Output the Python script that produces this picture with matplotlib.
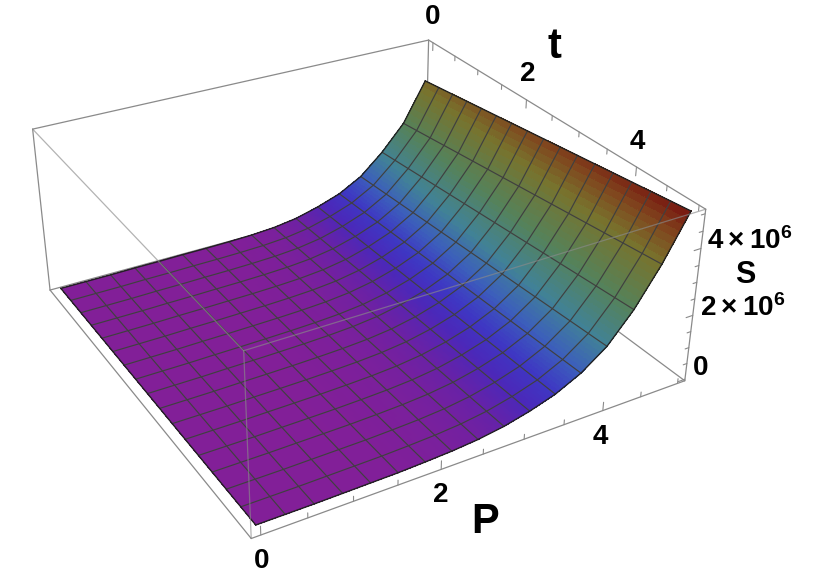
import numpy as np, matplotlib
matplotlib.use('Agg')
import matplotlib.pyplot as plt
from matplotlib.colors import LinearSegmentedColormap

plt.rcParams['font.family'] = ['Liberation Sans', 'DejaVu Sans']
plt.rcParams['mathtext.fontset'] = 'custom'
plt.rcParams['mathtext.bf'] = 'Liberation Sans:bold'
plt.rcParams['mathtext.rm'] = 'Liberation Sans:bold'

# S in millions, read along the two long edges of the surface, node by node
p_nodes = [0, 0.3125, 0.625, 0.9375, 1.25, 1.5625, 1.875, 2.1875, 2.5, 2.8125,
           3.125, 3.4375, 3.75, 4.0625, 4.375, 4.6875, 5]
s_t0 = [.06, .06, .06, .07, .07, .08, .08, .09, .11, .16, .27, .47, .73, 1.14, 1.80, 2.62, 3.90]
s_t5 = [.07, .07, .07, .08, .09, .10, .13, .17, .24, .36, .55, .80, 1.18, 1.74, 2.60, 3.71, 5.03]
t_nodes = [0, 0.3125, 0.625, 0.9375, 1.25, 1.5625, 1.875, 2.1875, 2.5, 2.8125,
           3.125, 3.4375, 3.75, 4.0625, 4.375, 4.6875, 5]
p_ticks = [0, 2, 4]
t_ticks = [0, 2, 4]
s_ticks = [0, 2, 4]
minor_step = 0.5

height_stops = [0.0, 0.08, 0.30, 0.55, 0.80, 1.18, 1.74, 2.60, 3.71, 4.40, 5.03]
height_colors = ['#821f98', '#821f98', '#6a21a5', '#4b28b9', '#3e37c3', '#3c5fbb',
                 '#418296', '#55825a', '#78732d', '#80461e', '#78140f']

lo, hi, zlo, zhi = -0.1, 5.1, -0.05, 5.13
EDGE = '#8a8a8a'
MESH = '#404040'

fig = plt.figure(figsize=(8.3, 5.8), dpi=100, facecolor='white')
ax = fig.add_axes([-73.278 / 830, -98.927 / 580, 1, 830 / 580], projection='3d')
ax.computed_zorder = False
ax.set_proj_type('persp', focal_length=0.359)
ax.view_init(29.569, -30.082, 0.01)
ax.set_box_aspect((1, 1, 0.4), zoom=0.82)
ax.set_axis_off()
ax.patch.set_alpha(0)

t_arr, p_arr, a0, a5 = map(np.asarray, (t_nodes, p_nodes, s_t0, s_t5))
weights = t_arr / t_arr[-1]
S = a0[None, :] + weights[:, None] * (a5 - a0)[None, :]      # rows: t, columns: P


def refine(v, n=8):
    idx = np.arange(len(v))
    return np.interp(np.linspace(0, len(v) - 1, (len(v) - 1) * n + 1), idx, v)


t_f, p_f = refine(t_arr), refine(p_arr)
S_f = np.array([refine(row) for row in np.array([refine(col) for col in S.T]).T])
T_f, P_f = np.meshgrid(t_f, p_f, indexing='ij')
norm = plt.Normalize(0, height_stops[-1])
cmap = LinearSegmentedColormap.from_list(
    'height', [(s / height_stops[-1], c) for s, c in zip(height_stops, height_colors)], N=1024)
cell = (S_f[:-1, :-1] + S_f[1:, :-1] + S_f[:-1, 1:] + S_f[1:, 1:]) / 4
face = cmap(norm(cell))


def seg(a, b, z=2, **kw):
    kw.setdefault('color', EDGE)
    kw.setdefault('lw', 0.9)
    ax.plot([a[0], b[0]], [a[1], b[1]], [a[2], b[2]], zorder=z, solid_capstyle='round', **kw)


A, B, C, D = (lo, lo, zhi), (lo, hi, zhi), (hi, hi, zhi), (hi, lo, zhi)
E, H, G, F = (lo, lo, zlo), (lo, hi, zlo), (hi, hi, zlo), (hi, lo, zlo)
for a, b in [(E, H), (H, G), (H, B), (A, B), (B, C), (A, E), (C, G), (E, F), (F, G)]:
    seg(a, b, z=1)

ax.plot_surface(T_f, P_f, S_f, facecolors=face, rstride=1, cstride=1, linewidth=0,
                antialiased=False, shade=False, zorder=2)

for i in range(1, len(t_nodes) - 1):
    ax.plot([t_nodes[i]] * len(p_nodes), p_nodes, S[i, :], color=MESH, lw=0.85, zorder=3)
for j in range(1, len(p_nodes) - 1):
    ax.plot(t_nodes, [p_nodes[j]] * len(t_nodes), S[:, j], color=MESH, lw=0.85, zorder=3)
ax.plot([t_nodes[0]] * 17, p_nodes, S[0, :], color='#222222', lw=1.0, zorder=3)
ax.plot([t_nodes[-1]] * 17, p_nodes, S[-1, :], color='#222222', lw=1.0, zorder=3)
ax.plot(t_nodes, [p_nodes[0]] * 17, S[:, 0], color='#222222', lw=1.0, zorder=3)
ax.plot(t_nodes, [p_nodes[-1]] * 17, S[:, -1], color='#222222', lw=1.0, zorder=3)

for a, b in [(A, D), (D, C), (D, F)]:
    seg(a, b, z=4, alpha=0.65)

for v in np.arange(0, 5.01, minor_step):
    L = 0.26 if v in p_ticks else 0.15
    seg((hi, v, zlo), (hi, v, zlo + L), z=5, lw=0.8)
    L = 0.26 if v in t_ticks else 0.15
    seg((v, hi, zhi), (v, hi, zhi - L), z=5, lw=0.8)
    L = 0.09 if v in s_ticks else 0.05
    seg((hi, hi, v), (hi, hi - L, v), z=5, lw=0.8)

ax.set_xlim(lo, hi, view_margin=0)
ax.set_ylim(lo, hi, view_margin=0)
ax.set_zlim(zlo, zhi, view_margin=0)


def label(x, y, s, size, ha='center'):
    fig.text(x / 830, 1 - y / 580, s, fontsize=size, fontweight='bold', ha=ha, va='center',
             color='black')


label(432.7, 17, '0', 20)
label(527.3, 74, '2', 20)
label(637.3, 142, '4', 20)
label(554, 47, 't', 30)
label(261.3, 561, '0', 20)
label(440.7, 495, '2', 20)
label(600.7, 437, '4', 20)
label(485, 522, 'P', 30)
label(701, 368, '0', 20)
label(745, 275, 'S', 22)
label(707, 241, r'$\mathbf{4\times10^{6}}$', 20, ha='left')
label(700, 308, r'$\mathbf{2\times10^{6}}$', 20, ha='left')

fig.savefig('out.png', dpi=100)
